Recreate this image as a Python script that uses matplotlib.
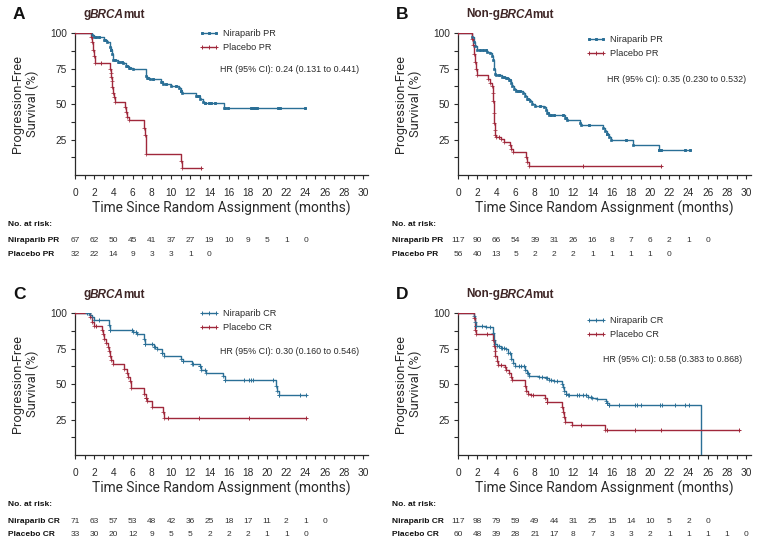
import numpy as np
import matplotlib
matplotlib.use("Agg")
import matplotlib.pyplot as plt
from matplotlib.lines import Line2D
from matplotlib import transforms

# ---- data (time in months, PFS in %) ----
# panel A: gBRCAmut, PR
a_nir_t = [0, 1.8, 2.0, 3.0, 3.3, 3.6, 3.7, 3.8, 4.0, 4.5, 5.0, 5.3, 5.6, 6.0, 7.4, 7.5, 7.8, 9.0, 9.2, 10.0,
           10.8, 11.0, 11.1, 12.6, 13.0, 13.3, 13.5, 15.5, 23.9]
a_nir_s = [100, 98.5, 97, 95.5, 94, 90, 88, 85, 81, 80, 79, 77, 75.5, 74.5, 70, 68.5, 67.5, 65.5, 64, 62.5,
           61.5, 59.5, 57.5, 55.5, 53.5, 51.5, 50.5, 47.3, 47.3]
a_nir_cens = [2.2, 2.5, 3.1, 3.7, 4.2, 4.6, 4.9, 5.4, 5.7, 7.6, 8.1, 9.1, 9.5, 10.5, 11.0, 12.7, 12.9, 13.5,
              13.9, 14.2, 14.6, 15.6, 15.9, 18.3, 18.5, 18.7, 18.9, 21.1, 21.3, 23.9]
a_pla_t = [0, 1.7, 1.8, 1.9, 2.0, 2.1, 3.6, 3.7, 3.75, 3.8, 3.9, 4.0, 4.1, 4.2, 5.2, 5.35, 5.45, 5.6, 7.15,
           7.3, 7.4, 11.0, 11.1, 13.1]
a_pla_s = [100, 97, 94, 88, 84, 79, 75, 72, 69, 66, 62, 58, 55, 51.5, 48, 44.5, 41, 38.5, 33, 28.5, 14.5,
           10, 5, 5]
a_pla_cens = [0, 2.7, 13.1]

# panel B: non-gBRCAmut, PR
b_nir_t = [0, 1.5, 1.7, 1.8, 2.0, 3.0, 3.3, 3.5, 3.6, 3.7, 3.8, 4.0, 4.6, 5.0, 5.3, 5.5, 5.6, 5.8, 6.0, 6.8,
           7.0, 7.2, 7.5, 7.7, 8.0, 9.0, 9.2, 9.3, 9.5, 11.1, 11.3, 12.7, 12.8, 15.1, 15.3, 15.5, 15.7, 15.9,
           18.2, 20.9, 24.1]
b_nir_s = [100, 97, 94, 91, 88, 87, 86, 84, 81, 75, 71, 70.5, 69, 68.5, 67, 65, 63, 61, 59, 57.5, 55.5,
           53.5, 52, 50, 49, 48, 46, 44, 42.5, 40.5, 39, 37, 35, 33, 31, 29, 27, 24.5, 21, 17.5, 17.5]
b_nir_cens = [2.3, 2.6, 2.9, 4.3, 4.8, 5.1, 5.4, 6.2, 6.5, 7.3, 8.5, 9.4, 9.7, 10.0, 10.9, 11.2, 13.6, 15.5,
              17.5, 20.9, 21.1, 23.6, 24.1]
b_pla_t = [0, 1.5, 1.6, 1.7, 1.8, 1.9, 2.0, 3.1, 3.3, 3.5, 3.6, 3.65, 3.7, 3.75, 3.8, 3.9, 4.0, 4.5, 4.8,
           5.4, 5.5, 5.7, 7.1, 7.2, 7.4, 21.1]
b_pla_s = [100, 96, 92, 85, 80, 75, 70.5, 68, 65, 63, 58, 52, 44, 37, 32, 28.5, 27, 25.5, 23.5, 21, 18.5,
           16, 13, 9.5, 6, 6]
b_pla_cens = [0, 4.3, 13.0, 21.1]

# panel C: gBRCAmut, CR
c_nir_t = [0, 1.6, 1.8, 2.0, 3.5, 3.6, 6.0, 6.5, 7.2, 7.3, 8.2, 8.5, 9.1, 9.3, 11.0, 11.2, 12.2, 13.0, 13.1,
           13.6, 15.4, 15.6, 20.9, 21.0, 21.2, 24.0]
c_nir_s = [100, 99, 97.5, 95.5, 92, 88, 86.5, 85, 82, 78.5, 76.5, 74.5, 72, 70, 68, 66, 64.5, 62.5, 60, 58,
           55.5, 53, 48.5, 45, 42, 42]
c_nir_cens = [1.3, 1.5, 2.5, 3.6, 5.9, 6.3, 7.3, 8.0, 8.3, 9.1, 11.2, 12.3, 13.0, 13.5, 15.6, 17.6, 18.1,
              18.3, 18.5, 20.6, 21.2, 23.4, 24.0]
c_pla_t = [0, 1.6, 1.8, 2.0, 2.8, 2.9, 3.0, 3.2, 3.4, 3.5, 3.6, 3.7, 4.0, 5.1, 5.4, 5.5, 5.7, 5.8, 7.2, 7.4,
           7.5, 8.0, 9.2, 9.3, 24.0]
c_pla_s = [100, 97, 94, 91, 88, 85, 82, 79, 76, 73, 70, 67, 64, 61, 58, 55, 52, 47, 43, 40, 38, 34, 30, 26, 26]
c_pla_cens = [0, 2.2, 7.4, 9.7, 12.9, 18.1, 24.0]

# panel D: non-gBRCAmut, CR
d_nir_t = [0, 1.7, 1.8, 1.9, 2.9, 3.6, 3.7, 3.8, 4.1, 4.5, 5.0, 5.2, 5.5, 5.7, 5.9, 7.0, 7.2, 7.4, 8.4, 9.2,
           9.5, 10.0, 10.8, 10.9, 11.0, 11.2, 11.5, 13.5, 14.0, 14.5, 15.4, 15.5, 15.7, 25.3]
d_nir_s = [100, 98, 94, 91, 90, 86, 81, 78, 77, 75.5, 75, 72, 68, 65, 62.5, 60, 58, 56, 55, 54, 53, 52.5,
           50, 48, 45, 43, 42.5, 41, 40, 39.5, 38, 36.5, 35.5, 0]
d_nir_cens = [1.9, 2.5, 3.3, 4.3, 4.6, 4.8, 5.4, 6.3, 6.6, 6.9, 7.3, 8.7, 9.3, 9.7, 10.3, 11.2, 11.6, 12.4,
              12.6, 13.0, 13.3, 13.8, 15.5, 15.7, 16.8, 18.4, 18.6, 19.1, 21.0, 21.2, 22.6, 23.6, 24.0]
d_pla_t = [0, 1.7, 1.8, 1.9, 3.6, 3.7, 3.8, 3.9, 4.1, 4.2, 4.9, 5.0, 5.3, 5.5, 5.6, 7.0, 7.1, 7.3, 7.6, 9.1,
           9.3, 10.8, 10.9, 11.0, 11.1, 11.9, 15.3, 29.2]
d_pla_s = [100, 96.5, 88, 85, 81, 77, 73, 70, 66.5, 63.5, 62, 60, 58, 55, 53, 48.5, 45, 43, 42, 40, 37.5,
           34, 30.5, 27, 23.5, 21, 17.5, 17.5]
d_pla_cens = [0, 3.0, 4.5, 7.8, 9.3, 12.8, 15.5, 18.4, 21.1, 29.2]

# numbers at risk, every 2 months from 0
a_nir_risk = [67, 62, 50, 45, 41, 37, 27, 19, 10, 9, 5, 1, 0]
a_pla_risk = [32, 22, 14, 9, 3, 3, 1, 0]
b_nir_risk = [117, 90, 66, 54, 39, 31, 26, 16, 8, 7, 6, 2, 1, 0]
b_pla_risk = [56, 40, 13, 5, 2, 2, 2, 1, 1, 1, 1, 0]
c_nir_risk = [71, 63, 57, 53, 48, 42, 36, 25, 18, 17, 11, 2, 1, 0]
c_pla_risk = [33, 30, 20, 12, 9, 5, 5, 2, 2, 2, 1, 1, 0]
d_nir_risk = [117, 98, 79, 59, 49, 44, 31, 25, 15, 14, 10, 5, 2, 0]
d_pla_risk = [60, 48, 39, 28, 21, 17, 8, 7, 3, 3, 2, 1, 1, 1, 1, 0]

hr_text = ["HR (95% CI): 0.24 (0.131 to 0.441)", "HR (95% CI): 0.35 (0.230 to 0.532)",
           "HR (95% CI): 0.30 (0.160 to 0.546)", "HR (95% CI): 0.58 (0.383 to 0.868)"]

BLUE = "#2a6f96"
RED = "#a0283b"
DARK = "#2a2a2a"
LAB = ["Roboto", "DejaVu Sans"]
REG = ["Liberation Sans", "DejaVu Sans"]

W, H = 764, 545
fig = plt.figure(figsize=(W / 100, H / 100), dpi=100)


def fx(x):
    return x / W


def fy(y):
    return 1 - y / H


def km(ax, t, s, cens, color, marker, ms):
    t = np.array(t, float)
    s = np.array(s, float)
    ax.step(t, s, where="post", color=color, lw=1.0, zorder=3)
    # marks at censoring times and at the event corners
    c = np.array(cens, float)
    idx = np.searchsorted(t, c, side="right") - 1
    ax.plot(c, s[idx], ls="none", marker=marker, ms=ms, mew=0.7, color=color, zorder=4)
    ax.plot(t[1:-1], s[1:-1], ls="none", marker=marker, ms=ms * 0.75, mew=0.5, color=color, zorder=4)


def panel(left, top, letter, prefix, arm, nir, pla, nir_risk, pla_risk, hr, nir_marker,
          leg_x, leg_y, hr_xy, tab_x, tab_y):
    bottom = top + 142.5
    ax = fig.add_axes([fx(left), fy(bottom), fx(293), 142.5 / H])
    nir_ms = 1.9 if nir_marker == "s" else 3.0
    km(ax, *nir, BLUE, nir_marker, nir_ms)
    km(ax, *pla, RED, "+", 3.0)
    ax.set_xlim(0, 30.5)
    ax.set_ylim(0, 100.5)
    for sp in ["top", "right"]:
        ax.spines[sp].set_visible(False)
    for sp in ["left", "bottom"]:
        ax.spines[sp].set_linewidth(0.9)
        ax.spines[sp].set_color(DARK)
    ax.set_xticks(np.arange(0, 31, 2))
    ax.set_xticks(np.arange(0, 31, 1), minor=True)
    ax.set_yticks([12.5, 25, 37.5, 50, 62.5, 75, 87.5, 100])
    ax.set_yticklabels(["", "25", "", "50", "", "75", "", "100"])
    ax.tick_params(axis="both", which="both", length=3, width=0.8, color=DARK)
    ax.tick_params(axis="x", pad=6.5)
    ax.tick_params(axis="y", pad=3)
    for lab in ax.get_xticklabels() + ax.get_yticklabels():
        lab.set_family(REG)
        lab.set_fontsize(7.3)
        lab.set_color(DARK)

    ax.text(-0.17, 0.5, "Progression-Free\nSurvival (%)", transform=ax.transAxes, rotation=90,
            ha="center", va="center", family=LAB, fontsize=9.3, color=DARK, linespacing=1.15)
    fig.text(fx(left + 146), fy(top + 175.5), "Time Since Random Assignment (months)", ha="center",
             va="center", family=LAB, fontsize=9.9, color=DARK)

    # panel letter and subgroup title (g + italic BRCA + mut)
    fig.text(fx(left - 62), fy(top - 18), letter, ha="left", va="center", family=REG,
             fontsize=12.5, weight="bold", color="#111111")
    t1 = fig.text(fx(left + 8), fy(top - 18), prefix + "g", ha="left", va="center", family=REG,
                  fontsize=8.5, weight="bold", color="#3f2626")
    a2 = ax.annotate("BRCA", xy=(1, 0), xycoords=t1, ha="left", va="bottom", family=REG,
                     fontsize=8.5, weight="bold", style="italic", color="#3f2626")
    ax.annotate("mut", xy=(1, 0), xycoords=a2, xytext=(-1.0, 0), textcoords="offset points",
                ha="left", va="bottom", family=REG, fontsize=8.5, weight="bold", color="#3f2626")

    # legend
    handles = [Line2D([], [], color=BLUE, lw=1.0, marker=nir_marker, ms=nir_ms, mew=0.7),
               Line2D([], [], color=RED, lw=1.0, marker="+", ms=3.0, mew=0.7)]
    ax.legend(handles, ["Niraparib " + arm, "Placebo " + arm], loc="upper left",
              bbox_to_anchor=(fx(leg_x), fy(leg_y)), bbox_transform=fig.transFigure,
              frameon=False, numpoints=3, handlelength=2.2, handletextpad=0.4,
              labelspacing=0.55, borderpad=0, borderaxespad=0,
              prop={"family": REG, "size": 6.6}, labelcolor=DARK)
    fig.text(fx(hr_xy[0]), fy(hr_xy[1]), hr, ha="left", va="center", family=REG,
             fontsize=6.4, color=DARK)

    # number at risk table
    tr = transforms.blended_transform_factory(ax.transData, fig.transFigure)
    fig.text(fx(tab_x), fy(tab_y[0]), "No. at risk:", ha="left", va="center", family=REG,
             fontsize=6.0, weight="bold", color="#111111")
    for name, risk, yy in [("Niraparib " + arm, nir_risk, tab_y[1]), ("Placebo " + arm, pla_risk, tab_y[2])]:
        fig.text(fx(tab_x), fy(yy), name, ha="left", va="center", family=REG, fontsize=6.0,
                 weight="bold", color="#111111")
        for i, n in enumerate(risk):
            ax.text(2 * i, fy(yy), str(n), transform=tr, ha="center", va="center", family=REG,
                    fontsize=6.0, color="#333333", clip_on=False)
    return ax


panel(75, 32.5, "A", "", "PR", (a_nir_t, a_nir_s, a_nir_cens), (a_pla_t, a_pla_s, a_pla_cens),
      a_nir_risk, a_pla_risk, hr_text[0], "s", 199, 29, (220, 70), 8, (225, 240, 254.5))
panel(458, 32.5, "B", "Non-", "PR", (b_nir_t, b_nir_s, b_nir_cens), (b_pla_t, b_pla_s, b_pla_cens),
      b_nir_risk, b_pla_risk, hr_text[1], "s", 586, 35, (607, 79), 392, (225, 240, 254.5))
panel(75, 312.5, "C", "", "CR", (c_nir_t, c_nir_s, c_nir_cens), (c_pla_t, c_pla_s, c_pla_cens),
      c_nir_risk, c_pla_risk, hr_text[2], "+", 199, 309, (220, 351), 8, (505, 521.5, 534))
panel(458, 312.5, "D", "Non-", "CR", (d_nir_t, d_nir_s, d_nir_cens), (d_pla_t, d_pla_s, d_pla_cens),
      d_nir_risk, d_pla_risk, hr_text[3], "+", 586, 316, (603, 359), 392, (505, 521.5, 534))

fig.savefig("out.png", dpi=100)
